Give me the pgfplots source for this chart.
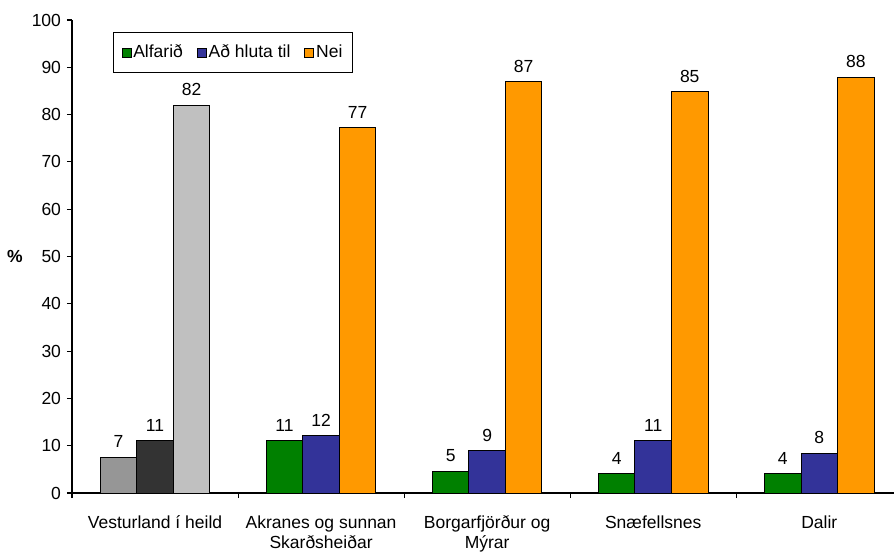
\documentclass[border=0pt]{standalone}
\usepackage{fontspec}
\setmainfont{Liberation Sans}
\usepackage{pgfplots}
\pgfplotsset{compat=1.18}
\definecolor{cgreen}{HTML}{008000}
\definecolor{cblue}{HTML}{333399}
\definecolor{corange}{HTML}{FF9900}
\definecolor{gone}{HTML}{969696}
\definecolor{gtwo}{HTML}{333333}
\definecolor{gthree}{HTML}{C0C0C0}
\begin{document}
\fontsize{17.5}{20.5}\selectfont
\begin{tikzpicture}[font=\fontsize{17.5}{20.5}\selectfont]
\begin{axis}[
  at={(0,0)}, anchor=south west,
  scale only axis,
  width=822pt, height=473pt,
  xmin=-0.5, xmax=4.45,
  ymin=0, ymax=100,
  axis lines*=left,
  axis line style={line width=1.1pt},
  tick style={line width=1.1pt, black},
  tick align=outside,
  major tick length=5pt,
  ytick={0,10,...,100},
  xtick={-0.5,0.5,1.5,2.5,3.5},
  xticklabels={},
  extra x ticks={0,1,2,3,4},
  extra x tick labels={Vesturland í heild, Akranes og sunnan\\Skarðsheiðar, Borgarfjörður og\\Mýrar, Snæfellsnes, Dalir},
  extra x tick style={major tick length=0pt, tick label style={align=center, yshift=-16.5pt}},
  /pgf/number format/assume math mode=true,
  ylabel={\textbf{\%}},
  every axis y label/.style={at={(rel axis cs:0,0.5)}, anchor=center, xshift=-57pt},
  nodes near coords,
  point meta=explicit symbolic,
  every node near coord/.append style={anchor=south, yshift=3pt, black},
  legend style={at={(rel axis cs:0.0499,0.888)}, anchor=south west, draw=black, line width=1pt,
    legend columns=3, inner xsep=8pt, inner ysep=10pt,
    nodes={inner xsep=2pt, inner ysep=2pt},
    /tikz/every even column/.append style={column sep=12pt}},
  legend cell align=left,
  legend image code/.code={\draw[#1, draw=black, line width=0.8pt] (0pt,-4.5pt) rectangle (9pt,4.5pt);},
]
\addplot[ybar, bar width=0.22, bar shift=-0.22, fill=cgreen, draw=black, line width=1pt,
  every node near coord/.append style={xshift=-36.53pt}]
  coordinates {(1,11.0) [11] (2,4.6) [5] (3,4.1) [4] (4,4.1) [4]};
\addlegendentry{Alfarið}
\addplot[ybar, bar width=0.22, bar shift=0, fill=cblue, draw=black, line width=1pt]
  coordinates {(1,12.1) [12] (2,8.9) [9] (3,11.0) [11] (4,8.4) [8]};
\addlegendentry{Að hluta til}
\addplot[ybar, bar width=0.22, bar shift=0.22, fill=corange, draw=black, line width=1pt,
  every node near coord/.append style={xshift=36.53pt}]
  coordinates {(1,77.2) [77] (2,86.9) [87] (3,84.8) [85] (4,87.9) [88]};
\addlegendentry{Nei}
\addplot[ybar, bar width=0.22, bar shift=-0.22, fill=gone, draw=black, line width=1pt, forget plot,
  every node near coord/.append style={xshift=-36.53pt}]
  coordinates {(0,7.6) [7]};
\addplot[ybar, bar width=0.22, bar shift=0, fill=gtwo, draw=black, line width=1pt, forget plot]
  coordinates {(0,11.0) [11]};
\addplot[ybar, bar width=0.22, bar shift=0.22, fill=gthree, draw=black, line width=1pt, forget plot,
  every node near coord/.append style={xshift=36.53pt}]
  coordinates {(0,82.0) [82]};
\end{axis}
\pgfresetboundingbox
\useasboundingbox (-72pt,-59pt) rectangle (822pt,493pt);
\end{tikzpicture}
\end{document}
